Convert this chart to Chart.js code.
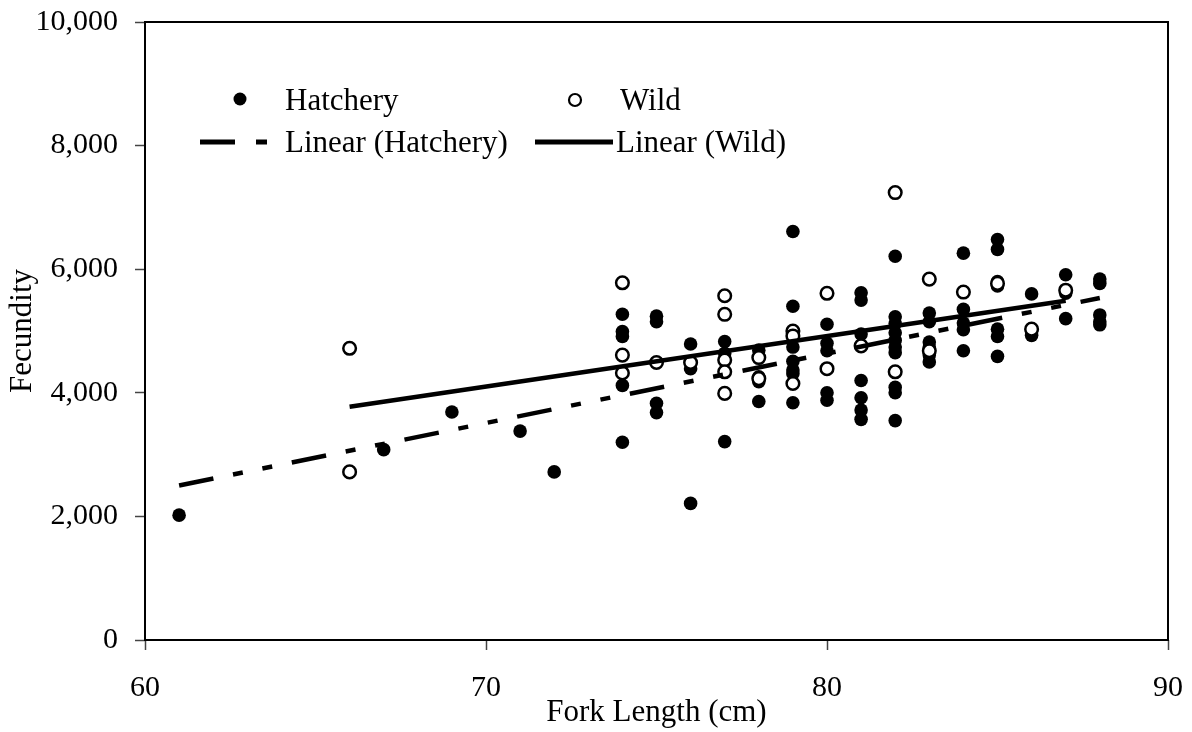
<!DOCTYPE html>
<html>
<head>
<meta charset="utf-8">
<title>Fecundity vs Fork Length</title>
<script src="https://cdn.jsdelivr.net/npm/chart.js@4.4.0/dist/chart.umd.min.js"></script>
<style>
  html, body { margin: 0; padding: 0; background: #fff; }
  #fecundityChart { display: block; }
</style>
</head>
<body>
<canvas id="fecundityChart" width="1192" height="732"></canvas>
<script>
// values
const hatcheryLength = [
  61, 67, 69, 71, 72,
  74, 74, 74, 74, 74,
  75, 75, 75, 75,
  76, 76, 76,
  77, 77, 77,
  78, 78, 78, 78,
  79, 79, 79, 79, 79, 79, 79,
  80, 80, 80, 80, 80,
  81, 81, 81, 81, 81, 81, 81,
  82, 82, 82, 82, 82, 82, 82, 82, 82, 82,
  83, 83, 83, 83, 83, 83,
  84, 84, 84, 84, 84,
  85, 85, 85, 85, 85, 85, 85,
  86, 86,
  87, 87, 87,
  88, 88, 88, 88, 88
];
const hatcheryFecundity = [
  2020, 3080, 3690, 3380, 2720,
  5270, 4990, 4910, 4120, 3200,
  5240, 5150, 3830, 3680,
  4790, 4390, 2210,
  4830, 4640, 3210,
  4690, 4260, 4180, 3860,
  6610, 5400, 4740, 4510, 4370, 4310, 3840,
  5110, 4800, 4680, 4000, 3880,
  5620, 5500, 4950, 4200, 3920, 3720, 3570,
  6210, 5230, 5120, 4970, 4850, 4740, 4650, 4090, 4000, 3550,
  5290, 5150, 4820, 4740, 4610, 4500,
  6260, 5350, 5130, 5020, 4680,
  6480, 6320, 5800, 5730, 5030, 4910, 4590,
  5600, 4930,
  5910, 5610, 5200,
  5840, 5770, 5260, 5150, 5100
];

const wildLength = [
  66, 66,
  74, 74, 74,
  75, 76,
  77, 77, 77, 77, 77,
  78, 78,
  79, 79, 79,
  80, 80,
  81,
  82, 82,
  83, 83,
  84, 85, 86, 87
];
const wildFecundity = [
  4720, 2720,
  5780, 4610, 4320,
  4490, 4490,
  5570, 5270, 4530, 4340, 3990,
  4570, 4230,
  5000, 4920, 4150,
  5610, 4390,
  4760,
  7240, 4340,
  5840, 4680,
  5630, 5770, 5030, 5660
];

// trendline ends as drawn in the picture
const hatcheryTrendLength = [61, 88];
const hatcheryTrendFecundity = [2500, 5535];
const wildTrendLength = [66, 87];
const wildTrendFecundity = [3775, 5490];

const xTicks = [60, 70, 80, 90];
const yTicks = [0, 2000, 4000, 6000, 8000, 10000];

const serif = "'Liberation Serif', 'Times New Roman', serif";
const hatcheryDash = [35, 20, 10, 20, 10, 20];

function toPoints(xs, ys) {
  return xs.map((x, i) => ({ x: x, y: ys[i] }));
}

// box around the plot plus the legend inside it
const frameAndLegend = {
  id: "frameAndLegend",
  afterDraw(chart) {
    const ctx = chart.ctx;
    const a = chart.chartArea;
    ctx.save();
    ctx.strokeStyle = "#000";
    ctx.lineWidth = 2;
    ctx.strokeRect(a.left, a.top, a.right - a.left, a.bottom - a.top);

    ctx.fillStyle = "#000";
    ctx.font = "31px " + serif;
    ctx.textBaseline = "alphabetic";
    ctx.textAlign = "left";

    // row 1: markers
    ctx.beginPath();
    ctx.arc(240, 99, 6.5, 0, Math.PI * 2);
    ctx.fill();
    ctx.fillText("Hatchery", 285, 110);

    ctx.beginPath();
    ctx.arc(575, 100, 6, 0, Math.PI * 2);
    ctx.fillStyle = "#fff";
    ctx.fill();
    ctx.lineWidth = 2.2;
    ctx.strokeStyle = "#000";
    ctx.stroke();
    ctx.fillStyle = "#000";
    ctx.fillText("Wild", 620, 110);

    // row 2: trendlines
    ctx.lineWidth = 5;
    ctx.setLineDash([35, 21, 11, 40]);
    ctx.beginPath();
    ctx.moveTo(200, 142);
    ctx.lineTo(267, 142);
    ctx.stroke();
    ctx.setLineDash([]);
    ctx.fillText("Linear (Hatchery)", 285, 152);

    ctx.beginPath();
    ctx.moveTo(535, 142);
    ctx.lineTo(613, 142);
    ctx.stroke();
    ctx.fillText("Linear (Wild)", 616, 152);
    ctx.restore();
  }
};

new Chart(document.getElementById("fecundityChart"), {
  type: "scatter",
  data: {
    datasets: [
      {
        label: "Hatchery",
        data: toPoints(hatcheryLength, hatcheryFecundity),
        pointRadius: 6.8,
        pointBackgroundColor: "#000",
        pointBorderWidth: 0,
        order: 3
      },
      {
        label: "Wild",
        data: toPoints(wildLength, wildFecundity),
        pointRadius: 6.3,
        pointBackgroundColor: "#fff",
        pointBorderColor: "#000",
        pointBorderWidth: 2.5,
        order: 2
      },
      {
        label: "Linear (Hatchery)",
        type: "line",
        data: toPoints(hatcheryTrendLength, hatcheryTrendFecundity),
        borderColor: "#000",
        borderWidth: 4.5,
        borderDash: hatcheryDash,
        borderCapStyle: "butt",
        pointRadius: 0,
        order: 1
      },
      {
        label: "Linear (Wild)",
        type: "line",
        data: toPoints(wildTrendLength, wildTrendFecundity),
        borderColor: "#000",
        borderWidth: 4.5,
        pointRadius: 0,
        order: 1
      }
    ]
  },
  options: {
    responsive: false,
    animation: false,
    devicePixelRatio: 1,
    layout: { padding: { top: 22, right: 24, left: 0, bottom: 0 } },
    plugins: {
      legend: { display: false },
      tooltip: { enabled: false }
    },
    scales: {
      x: {
        type: "linear",
        min: 60,
        max: 90,
        afterFit: (s) => { s.height = 92; s.paddingLeft = 0; s.paddingRight = 0; },
        afterBuildTicks: (s) => { s.ticks = xTicks.map(v => ({ value: v })); },
        border: { display: false },
        grid: { drawOnChartArea: false, drawTicks: true, tickLength: 10, tickColor: "#444", tickWidth: 1.5 },
        ticks: { color: "#000", padding: 20, font: { family: serif, size: 30 } },
        title: {
          display: true,
          text: "Fork Length (cm)",
          color: "#000",
          padding: { top: 0, bottom: 1 },
          font: { family: serif, size: 31 }
        }
      },
      y: {
        type: "linear",
        min: 0,
        max: 10000,
        afterFit: (s) => { s.width = 145; s.paddingTop = 0; s.paddingBottom = 0; },
        afterBuildTicks: (s) => { s.ticks = yTicks.map(v => ({ value: v })); },
        border: { display: false },
        grid: { drawOnChartArea: false, drawTicks: true, tickLength: 10, tickColor: "#444", tickWidth: 1.5 },
        ticks: {
          color: "#000",
          padding: 17,
          font: { family: serif, size: 30 },
          callback: (v) => v.toLocaleString("en-US")
        },
        title: {
          display: true,
          text: "Fecundity",
          color: "#000",
          padding: { top: 4, bottom: 0 },
          font: { family: serif, size: 31 }
        }
      }
    }
  },
  plugins: [frameAndLegend]
});
</script>
</body>
</html>
